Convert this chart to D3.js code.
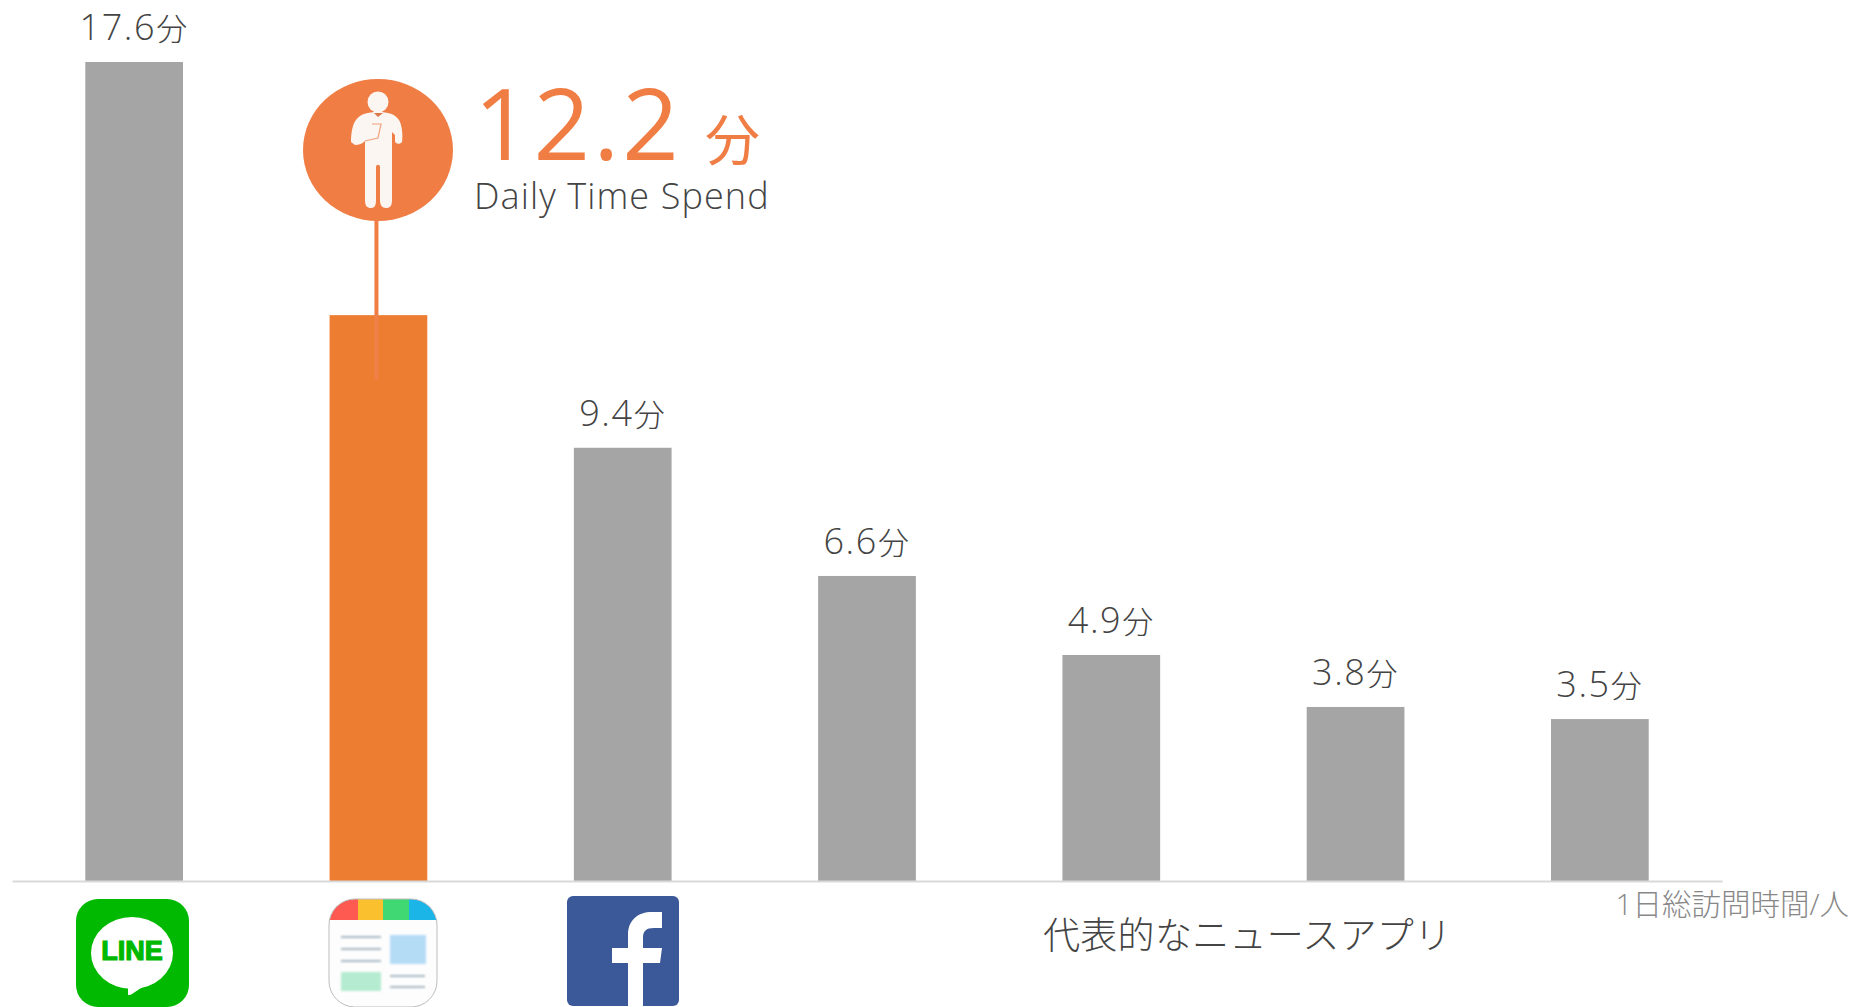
<!DOCTYPE html>
<html>
<head>
<meta charset="utf-8">
<script src="https://cdn.jsdelivr.net/npm/d3@7"></script>
<style>
    html, body { margin: 0; padding: 0; background: #fff; overflow: hidden; }
    text { font-family: "Open Sans", "Noto Sans CJK JP", sans-serif; font-weight: 300; }
</style>
</head>
<body>
<div id="chart"></div>
<script>
// Data
const apps = ["LINE", "SmartNews", "Facebook", "App4", "App5", "App6", "App7"];
const minutes = [17.6, 12.2, 9.4, 6.6, 4.9, 3.8, 3.5];
// bars in the picture are not exactly to scale with their labels, lengths read off the picture
const barLengths = [17.6, 12.16, 9.31, 6.555, 4.857, 3.74, 3.48];
const highlight = "SmartNews";
const unit = "分";

const width = 1854, height = 1007;
const baseline = 881;

const svg = d3.select("#chart")
    .append("svg")
    .attr("width", width)
    .attr("height", height)
    .style("display", "block");

// Scales
const xScale = d3.scaleBand().domain(apps).range([12, 1722]).paddingInner(0.6).paddingOuter(0.3);
const yScale = d3.scaleLinear().domain([0, 17.6]).range([baseline, 62]);

// Bars
svg.selectAll(".bar")
    .data(apps)
    .enter()
    .append("rect")
    .attr("class", "bar")
    .attr("x", d => xScale(d))
    .attr("width", xScale.bandwidth())
    .attr("y", (d, i) => yScale(barLengths[i]))
    .attr("height", (d, i) => baseline - yScale(barLengths[i]))
    .attr("fill", d => d == highlight ? "#ed7d31" : "#a5a5a5");

// Axis line
const xAxis = d3.axisBottom(xScale).tickSize(0).tickFormat("");
const xAxisGroup = svg.append("g")
    .attr("class", "x-axis")
    .attr("transform", `translate(0, ${baseline})`)
    .call(xAxis);
xAxisGroup.select(".domain").attr("stroke", "#d9d9d9").attr("stroke-width", 2);
xAxisGroup.selectAll(".tick").remove();

// Value labels, the highlighted one gets the callout instead
const valueLabels = svg.selectAll(".value")
    .data(apps.filter(d => d != highlight))
    .enter()
    .append("text")
    .attr("class", "value")
    .attr("x", d => xScale(d) + xScale.bandwidth() / 2)
    .attr("y", d => yScale(barLengths[apps.indexOf(d)]) - 22)
    .attr("text-anchor", "middle")
    .attr("fill", "#444")
    .attr("font-size", 36)
    .attr("letter-spacing", 1.6)
    .text(d => minutes[apps.indexOf(d)]);
valueLabels.append("tspan")
    .attr("font-size", 31)
    .text(unit);

// Callout
const hx = xScale(highlight) + xScale.bandwidth() / 2 - 2;
const callout = svg.append("g");
callout.append("line")
    .attr("x1", hx).attr("x2", hx)
    .attr("y1", 215).attr("y2", yScale(barLengths[1]))
    .attr("stroke", "#ef7d44").attr("stroke-width", 4);
callout.append("line")
    .attr("x1", hx).attr("x2", hx)
    .attr("y1", yScale(barLengths[1])).attr("y2", 380)
    .attr("stroke", "#ef8148").attr("stroke-width", 4);
callout.append("ellipse")
    .attr("cx", 378).attr("cy", 150).attr("rx", 75).attr("ry", 71)
    .attr("fill", "#ef7d44");

// person icon
callout.append("circle").attr("cx", 378).attr("cy", 102).attr("r", 10.5).attr("fill", "#fcf6f3");
callout.append("path")
    .attr("d", "M378 112C368 112 360 114 356 120C352 125 351 135 351 142L355 145C358 145 362 144 365 141V200C365 206 367 208 371 208C375 208 376 205 376 200V167C376 164 380 164 380 167V200C380 205 382 208 386 208C390 208 392 206 392 200V132L395 135V141C395 144 400 145 402 142C403 135 402 125 399 120C395 114 388 112 378 112Z")
    .attr("fill", "#fcf6f3");
callout.append("path")
    .attr("d", "M372 124H381L378 138L365 141")
    .attr("fill", "none").attr("stroke", "#f0a27c").attr("stroke-width", 1.2);
callout.append("path")
    .attr("d", "M374 113H383L378 117Z")
    .attr("fill", "#d9794a");

callout.append("text")
    .attr("x", 474).attr("y", 160)
    .attr("fill", "#ef7d44").attr("font-size", 99)
    .attr("letter-spacing", 3)
    .style("font-weight", 400)
    .text(minutes[1]);
callout.append("text")
    .attr("x", 705).attr("y", 160)
    .attr("fill", "#ef7d44").attr("font-size", 55)
    .style("font-weight", 400)
    .text(unit);
callout.append("text")
    .attr("x", 474).attr("y", 209)
    .attr("fill", "#444").attr("font-size", 36)
    .attr("letter-spacing", 1.1)
    .text("Daily Time Spend");

// Caption texts
svg.append("text")
    .attr("x", 1043).attr("y", 949)
    .attr("fill", "#444").attr("font-size", 37)
    .attr("letter-spacing", 0.3)
    .text("代表的なニュースアプリ");
svg.append("text")
    .attr("x", 1849).attr("y", 915)
    .attr("text-anchor", "end")
    .attr("fill", "#888").attr("font-size", 29.5)
    .text("1日総訪問時間/人");

// LINE icon
const lineIcon = svg.append("g");
lineIcon.append("rect")
    .attr("x", 76).attr("y", 899).attr("width", 113).attr("height", 108).attr("rx", 22)
    .attr("fill", "#00b900");
lineIcon.append("ellipse")
    .attr("cx", 132).attr("cy", 953).attr("rx", 41).attr("ry", 36)
    .attr("fill", "#fff");
lineIcon.append("path")
    .attr("d", "M128 985V994C128 996 130 995 132 994L150 982Z")
    .attr("fill", "#fff");
lineIcon.append("text")
    .attr("x", 132).attr("y", 960)
    .attr("text-anchor", "middle")
    .attr("fill", "#00b900")
    .attr("stroke", "#00b900")
    .attr("stroke-width", 1.2)
    .style("font-family", "'Liberation Sans'")
    .style("font-weight", 700)
    .attr("font-size", 27)
    .text("LINE");

// News app icon
const defs = svg.append("defs");
defs.append("clipPath").attr("id", "newsClip")
    .append("rect")
    .attr("x", 329).attr("y", 899).attr("width", 108).attr("height", 108).attr("rx", 26);
defs.append("filter").attr("id", "soft")
    .append("feGaussianBlur").attr("stdDeviation", 1.1);

const newsIcon = svg.append("g").attr("clip-path", "url(#newsClip)");
newsIcon.append("rect").attr("x", 329).attr("y", 899).attr("width", 108).attr("height", 108).attr("fill", "#fdfdfd");
const stripes = [[329, 29, "#ff5a52"], [358, 25, "#fbc02d"], [383, 26, "#3fd873"], [409, 28, "#1cb5e8"]];
stripes.forEach(s => {
    newsIcon.append("rect").attr("x", s[0]).attr("y", 899).attr("width", s[1]).attr("height", 21).attr("fill", s[2]);
});
const newsBody = newsIcon.append("g").attr("filter", "url(#soft)");
newsBody.append("rect").attr("x", 390).attr("y", 935).attr("width", 36).attr("height", 29).attr("fill", "#b5dcf5");
newsBody.append("rect").attr("x", 341).attr("y", 972).attr("width", 40).attr("height", 19).attr("fill", "#b5ebd0");
[[341, 381, 937], [341, 381, 949], [341, 381, 961], [390, 425, 976], [390, 425, 987]].forEach(l => {
    newsBody.append("line")
        .attr("x1", l[0]).attr("x2", l[1]).attr("y1", l[2]).attr("y2", l[2])
        .attr("stroke", "#a5b8c2").attr("stroke-width", 2.2);
});
svg.append("rect")
    .attr("x", 329).attr("y", 899).attr("width", 108).attr("height", 108).attr("rx", 26)
    .attr("fill", "none").attr("stroke", "#bdbdbd").attr("stroke-width", 1);

// Facebook icon
const fbIcon = svg.append("g");
fbIcon.append("rect")
    .attr("x", 567).attr("y", 896).attr("width", 112).attr("height", 110).attr("rx", 6)
    .attr("fill", "#3b5998");
fbIcon.append("path")
    .attr("d", "M628 1006V963H612V948H628V935C628 920 638 912 652 912H662V928H654C646 928 643 931 643 938V948H662L660 963H643V1006Z")
    .attr("fill", "#fff");
</script>
</body>
</html>
